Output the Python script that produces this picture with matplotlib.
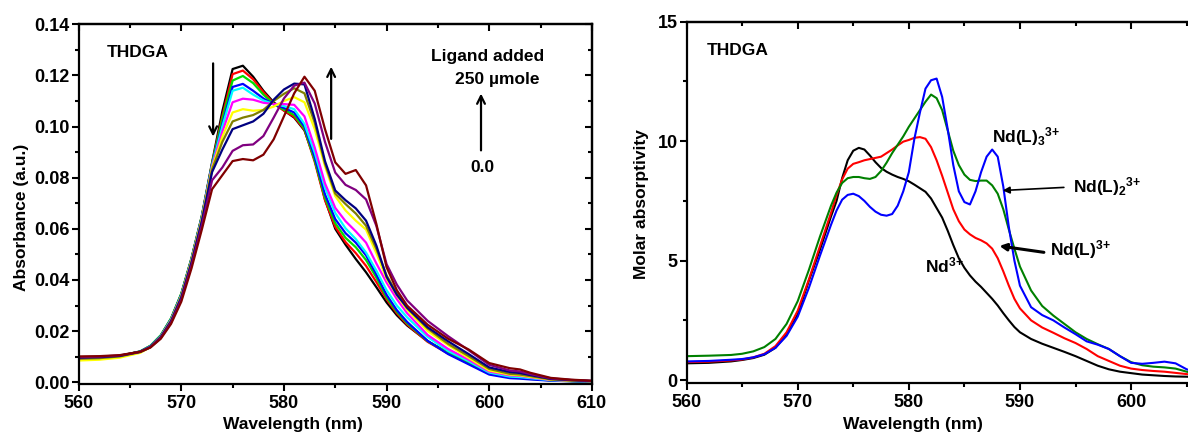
import matplotlib
matplotlib.use("Agg")
import matplotlib.pyplot as plt
from matplotlib.ticker import MultipleLocator, FormatStrFormatter

plt.rcParams["font.family"] = ["Liberation Sans", "DejaVu Sans"]
plt.rcParams["font.weight"] = "bold"
plt.rcParams["axes.labelweight"] = "bold"
plt.rcParams["mathtext.default"] = "regular"

# ---- left panel: titration spectra (absorbance) ----
wl = [560, 562, 564, 566, 567, 568, 569, 570, 571, 572, 573, 574, 575, 576, 577,
      578, 579, 580, 581, 582, 583, 584, 585, 586, 587, 588, 589, 590, 591, 592,
      594, 596, 598, 600, 602, 603, 604, 606, 608, 610]

abs_black = [.0095, .0097, .0103, .0120, .0142, .0182, .0248, .0345, .0485, .0650, .0860,
             .1060, .1225, .1238, .1195, .1140, .1095, .1063, .1035, .0985, .0870, .0715,
             .0600, .0538, .0482, .0430, .0372, .0312, .0262, .0222, .0160, .0116, .0078,
             .0041, .0026, .0024, .0019, .0009, .0005, .0003]
abs_red = [.0095, .0097, .0103, .0120, .0141, .0181, .0247, .0343, .0483, .0647, .0855,
           .1040, .1205, .1219, .1185, .1135, .1090, .1062, .1038, .0988, .0862, .0712,
           .0608, .0548, .0505, .0455, .0392, .0325, .0270, .0226, .0158, .0112, .0074,
           .0036, .0021, .0019, .0015, .0008, .0005, .0003]
abs_green = [.0094, .0096, .0103, .0121, .0143, .0184, .0250, .0347, .0486, .0650, .0855,
             .1030, .1180, .1198, .1170, .1125, .1088, .1066, .1045, .0992, .0868, .0722,
             .0622, .0565, .0528, .0478, .0410, .0332, .0276, .0231, .0161, .0113, .0073,
             .0034, .0019, .0017, .0013, .0007, .0004, .0003]
abs_blue = [.0093, .0095, .0102, .0120, .0141, .0181, .0246, .0342, .0481, .0645, .0850,
            .1010, .1155, .1167, .1140, .1110, .1087, .1073, .1055, .1000, .0880, .0735,
            .0638, .0583, .0546, .0496, .0422, .0342, .0282, .0236, .0162, .0110, .0070,
            .0030, .0016, .0014, .0011, .0006, .0004, .0002]
abs_cyan = [.0092, .0094, .0101, .0119, .0140, .0180, .0245, .0340, .0480, .0643, .0848,
            .1000, .1140, .1152, .1125, .1102, .1088, .1080, .1068, .1010, .0898, .0760,
            .0662, .0602, .0560, .0507, .0437, .0360, .0300, .0254, .0177, .0122, .0082,
            .0038, .0022, .0020, .0016, .0008, .0005, .0003]
abs_magenta = [.0090, .0093, .0100, .0118, .0139, .0178, .0243, .0338, .0477, .0640, .0843,
               .0980, .1095, .1109, .1105, .1093, .1088, .1088, .1085, .1040, .0918, .0778,
               .0682, .0630, .0590, .0546, .0465, .0390, .0325, .0270, .0185, .0130, .0088,
               .0042, .0027, .0025, .0019, .0009, .0006, .0004]
abs_yellow = [.0085, .0088, .0096, .0115, .0137, .0177, .0241, .0336, .0475, .0637, .0838,
              .0960, .1055, .1068, .1062, .1065, .1078, .1100, .1115, .1095, .0990, .0845,
              .0728, .0672, .0632, .0597, .0505, .0405, .0340, .0284, .0200, .0145, .0095,
              .0046, .0030, .0027, .0021, .0010, .0006, .0004]
abs_olive = [.0092, .0094, .0101, .0118, .0138, .0177, .0240, .0334, .0472, .0633, .0832,
             .0940, .1020, .1035, .1045, .1065, .1100, .1128, .1150, .1130, .1015, .0855,
             .0738, .0697, .0660, .0612, .0522, .0418, .0348, .0290, .0210, .0150, .0102,
             .0052, .0033, .0030, .0024, .0011, .0007, .0004]
abs_navy = [.0096, .0098, .0103, .0119, .0138, .0176, .0238, .0331, .0468, .0628, .0822,
            .0910, .0990, .1005, .1020, .1050, .1105, .1145, .1168, .1165, .1030, .0865,
            .0750, .0712, .0680, .0632, .0535, .0412, .0342, .0292, .0215, .0160, .0110,
            .0058, .0040, .0036, .0028, .0013, .0008, .0005]
abs_purple = [.0098, .0100, .0105, .0119, .0137, .0173, .0233, .0323, .0458, .0613, .0790,
              .0840, .0905, .0927, .0930, .0963, .1035, .1110, .1160, .1172, .1090, .0940,
              .0820, .0772, .0752, .0715, .0612, .0462, .0382, .0320, .0240, .0180, .0125,
              .0068, .0046, .0042, .0032, .0015, .0009, .0005]
abs_maroon = [.0101, .0102, .0106, .0119, .0136, .0170, .0228, .0315, .0446, .0597, .0755,
              .0810, .0865, .0873, .0868, .0890, .0950, .1040, .1130, .1195, .1140, .0990,
              .0860, .0815, .0830, .0770, .0620, .0450, .0360, .0300, .0225, .0170, .0128,
              .0075, .0055, .0050, .0037, .0017, .0010, .0006]

titration = [abs_black, abs_red, abs_green, abs_blue, abs_cyan, abs_magenta,
             abs_yellow, abs_olive, abs_navy, abs_purple, abs_maroon]
titration_colors = ["#000000", "#ff0000", "#00dd00", "#0000ff", "#00ffff", "#ff00ff",
                    "#ffff00", "#808000", "#000080", "#800080", "#800000"]

# ---- right panel: species spectra (molar absorptivity) ----
wl_r = [560, 562, 564, 565, 566, 567, 568, 569, 570, 571, 572, 573, 573.5, 574, 574.5,
        575, 575.5, 576, 576.5, 577, 577.5, 578, 578.5, 579, 579.5, 580, 580.5, 581,
        581.5, 582, 582.5, 583, 583.5, 584, 584.5, 585, 585.5, 586, 586.5, 587, 587.5,
        588, 588.5, 589, 589.5, 590, 591, 592, 593, 594, 595, 596, 597, 598, 599, 600,
        601, 602, 603, 604, 605, 605.5]

eps_nd = [0.70, 0.72, 0.78, 0.84, 0.92, 1.06, 1.35, 1.90, 2.75, 4.15, 5.45, 6.85, 7.50,
          8.45, 9.20, 9.60, 9.72, 9.65, 9.40, 9.12, 8.88, 8.72, 8.60, 8.50, 8.42, 8.32,
          8.18, 8.03, 7.88, 7.60, 7.20, 6.80, 6.25, 5.65, 5.10, 4.70, 4.38, 4.12, 3.90,
          3.65, 3.40, 3.12, 2.80, 2.50, 2.22, 2.00, 1.72, 1.52, 1.35, 1.18, 1.00, 0.80,
          0.60, 0.45, 0.35, 0.29, 0.23, 0.20, 0.17, 0.15, 0.14, 0.13]
eps_ndl = [0.75, 0.77, 0.82, 0.86, 0.95, 1.10, 1.42, 2.00, 2.90, 4.20, 5.60, 7.00, 7.75,
           8.40, 8.85, 9.05, 9.12, 9.20, 9.25, 9.30, 9.35, 9.50, 9.65, 9.82, 9.98, 10.05,
           10.14, 10.17, 10.10, 9.75, 9.20, 8.55, 7.85, 7.15, 6.65, 6.30, 6.10, 5.95,
           5.85, 5.72, 5.50, 5.10, 4.55, 3.95, 3.40, 3.00, 2.50, 2.20, 1.98, 1.75, 1.55,
           1.30, 1.00, 0.80, 0.60, 0.48, 0.42, 0.38, 0.35, 0.30, 0.25, 0.22]
eps_ndl2 = [1.00, 1.02, 1.05, 1.10, 1.20, 1.38, 1.72, 2.35, 3.30, 4.60, 6.00, 7.30, 7.85,
            8.25, 8.45, 8.50, 8.50, 8.45, 8.42, 8.50, 8.75, 9.10, 9.50, 9.85, 10.20,
            10.60, 10.95, 11.30, 11.65, 11.95, 11.80, 11.30, 10.45, 9.60, 9.00, 8.60,
            8.38, 8.33, 8.35, 8.35, 8.15, 7.80, 7.15, 6.30, 5.50, 4.75, 3.75, 3.10, 2.70,
            2.35, 2.00, 1.72, 1.50, 1.30, 1.00, 0.75, 0.62, 0.56, 0.53, 0.48, 0.35, 0.30]
eps_ndl3 = [0.78, 0.80, 0.85, 0.88, 0.95, 1.08, 1.35, 1.85, 2.65, 3.85, 5.20, 6.50, 7.10,
            7.55, 7.75, 7.80, 7.70, 7.50, 7.25, 7.05, 6.92, 6.88, 6.95, 7.30, 7.90, 8.70,
            10.10, 11.20, 12.20, 12.55, 12.62, 11.85, 10.50, 9.00, 7.90, 7.45, 7.35, 7.90,
            8.70, 9.35, 9.65, 9.35, 8.10, 6.40, 5.00, 3.95, 3.05, 2.72, 2.50, 2.20, 1.92,
            1.62, 1.48, 1.30, 1.00, 0.72, 0.68, 0.72, 0.77, 0.70, 0.45, 0.38]

species = [eps_nd, eps_ndl, eps_ndl2, eps_ndl3]
species_colors = ["#000000", "#ff0000", "#008000", "#0000ff"]


def style_axes(ax, xmaj, xmin, ymaj, ymin, right_ticks=True):
    for sp in ax.spines.values():
        sp.set_linewidth(1.6)
    ax.xaxis.set_major_locator(MultipleLocator(xmaj))
    ax.xaxis.set_minor_locator(MultipleLocator(xmin))
    ax.yaxis.set_major_locator(MultipleLocator(ymaj))
    ax.yaxis.set_minor_locator(MultipleLocator(ymin))
    ax.tick_params(which="both", direction="out", width=1.5, labelsize=13, top=False, right=False)
    ax.tick_params(axis="x", which="both", pad=3)
    ax.tick_params(axis="y", which="both", pad=1.5)
    ax.tick_params(which="major", length=5)
    ax.tick_params(which="minor", length=3)
    top = ax.secondary_xaxis("top")
    top.xaxis.set_major_locator(MultipleLocator(xmaj))
    top.xaxis.set_minor_locator(MultipleLocator(xmin))
    top.tick_params(which="both", direction="in", width=1.5, labeltop=False)
    top.tick_params(which="major", length=5)
    top.tick_params(which="minor", length=3)
    top.spines["top"].set_linewidth(1.6)
    if right_ticks:
        rt = ax.secondary_yaxis("right")
        rt.yaxis.set_major_locator(MultipleLocator(ymaj))
        rt.yaxis.set_minor_locator(MultipleLocator(ymin))
        rt.tick_params(which="both", direction="in", width=1.5, labelright=False)
        rt.tick_params(which="major", length=5)
        rt.tick_params(which="minor", length=3)
        rt.spines["right"].set_linewidth(1.6)


fig = plt.figure(figsize=(11.88, 4.37), dpi=100)

ax1 = fig.add_axes([0.0662, 0.1224, 0.432, 0.822])
for vals, c in zip(titration, titration_colors):
    ax1.plot(wl, vals, color=c, lw=1.6)
ax1.set_xlim(560, 610)
ax1.set_ylim(-0.0005, 0.14)
style_axes(ax1, 10, 5, 0.02, 0.01)
ax1.yaxis.set_major_formatter(FormatStrFormatter("%.2f"))
ax1.set_xlabel("Wavelength (nm)", fontsize=12.5)
ax1.set_ylabel("Absorbance (a.u.)", fontsize=12.5)
ax1.xaxis.set_label_coords(0.418, -0.093)
ax1.yaxis.set_label_coords(-0.097, 0.4635)

ax1.text(562.7, 0.1288, "THDGA", fontsize=12.5, va="center", ha="left")
ax1.text(599.8, 0.1273, "Ligand added", fontsize=12.5, va="center", ha="center")
ax1.text(600.8, 0.1186, "250 µmole", fontsize=12.5, va="center", ha="center")
ax1.text(599.3, 0.0838, "0.0", fontsize=12.5, va="center", ha="center")
arrow = dict(arrowstyle="->", lw=1.6, color="black", mutation_scale=14)
ax1.annotate("", xy=(599.2, 0.114), xytext=(599.2, 0.0896), arrowprops=arrow)
ax1.annotate("", xy=(573.1, 0.095), xytext=(573.1, 0.1258), arrowprops=arrow)
ax1.annotate("", xy=(584.6, 0.1245), xytext=(584.6, 0.0941), arrowprops=arrow)

ax2 = fig.add_axes([0.5779, 0.1243, 0.4221, 0.8260])
for vals, c in zip(species, species_colors):
    ax2.plot(wl_r, vals, color=c, lw=1.5)
ax2.set_xlim(560, 605.12)
ax2.set_ylim(-0.11, 15)
style_axes(ax2, 10, 5, 5, 2.5, right_ticks=False)
ax2.spines["right"].set_visible(False)
ax2.set_xlabel("Wavelength (nm)", fontsize=12.5)
ax2.set_ylabel("Molar absorptivity", fontsize=12.5)
ax2.xaxis.set_label_coords(0.452, -0.095)
ax2.yaxis.set_label_coords(-0.075, 0.495)

ax2.text(561.85, 13.8, "THDGA", fontsize=12.5, va="center", ha="left")
ax2.text(587.5, 10.2, "Nd(L)$_3$$^{3{+}}$", fontsize=12.5, va="center", ha="left")
ax2.text(594.8, 8.1, "Nd(L)$_2$$^{3{+}}$", fontsize=12.5, va="center", ha="left")
ax2.text(592.7, 5.45, "Nd(L)$^{3{+}}$", fontsize=12.5, va="center", ha="left")
ax2.text(581.45, 4.78, "Nd$^{3{+}}$", fontsize=12.5, va="center", ha="left")
ax2.annotate("", xy=(588.2, 7.93), xytext=(594.2, 8.07),
             arrowprops=dict(arrowstyle="-|>", lw=1.2, color="black", mutation_scale=10))
ax2.annotate("", xy=(587.9, 5.63), xytext=(592.4, 5.33),
             arrowprops=dict(arrowstyle="-|>", lw=2.2, color="black", mutation_scale=10))

fig.savefig("out.png", dpi=100)
